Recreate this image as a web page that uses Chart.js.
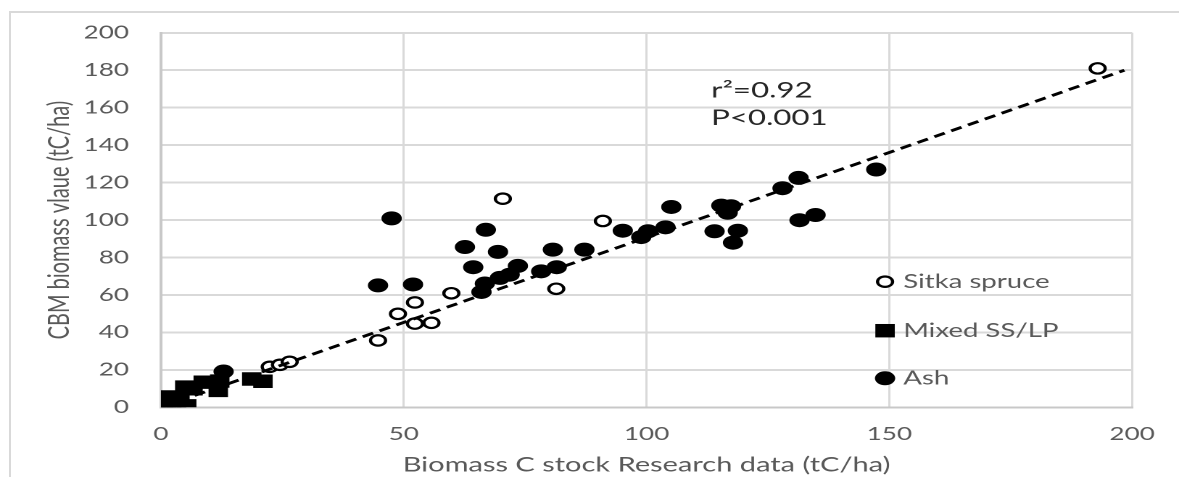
<!DOCTYPE html>
<html>
<head>
<meta charset="utf-8">
<script src="https://cdn.jsdelivr.net/npm/chart.js@4.4.0/dist/chart.umd.min.js"></script>
<style>
html,body{margin:0;padding:0;background:#fff;overflow:hidden;}
#wrap{position:relative;width:1179px;height:477px;}
#frame{position:absolute;left:9px;top:11px;right:-2px;bottom:-2px;border-top:2px solid #d9d9d9;border-left:2px solid #d9d9d9;}
#c{position:absolute;left:0;top:0;}
</style>
</head>
<body>
<div id="wrap">
  <div id="frame"></div>
  <canvas id="c" width="813" height="477" style="width:1179px;height:477px"></canvas>
</div>
<script>
// ---- data ----
const sitkaX = [192.9, 70.4, 91.0, 59.8, 81.4, 52.3, 48.8, 52.3, 55.7, 44.7, 22.4, 24.5, 26.5];
const sitkaY = [181.0, 111.4, 99.5, 60.9, 63.3, 56.0, 49.9, 44.7, 45.1, 35.7, 21.6, 22.7, 24.3];

const mixedX = [0.5, 1.2, 2.2, 3.2, 3.9, 5.3, 1.8, 4.9, 6.6, 8.7, 11.8, 12.1, 18.7, 21.0];
const mixedY = [1.2, 2.9, 0.5, 1.2, 4.7, 0.8, 5.5, 10.8, 9.9, 13.4, 9.0, 14.0, 15.1, 13.9];

const ashX = [62.6, 69.4, 80.7, 87.2, 64.3, 73.5, 78.3, 81.5, 44.7, 51.9, 66.7, 66.0, 69.8, 71.8,
              47.5, 66.9, 95.1, 98.9, 100.3, 103.9, 105.1, 115.4, 117.4, 116.7, 114.0, 118.8,
              117.8, 128.0, 131.3, 131.5, 134.8, 147.3, 12.9];
const ashY = [85.6, 83.0, 84.2, 84.2, 74.8, 75.5, 72.6, 74.8, 65.1, 65.6, 66.1, 61.6, 69.1, 70.8,
              100.9, 94.8, 94.3, 90.9, 94.0, 96.1, 107.0, 107.7, 107.4, 103.9, 94.0, 94.3,
              87.9, 117.0, 122.5, 99.9, 102.7, 127.0, 19.1];

const trendX = [0, 198.4];
const trendY = [0, 180.0];

const xTicks = [0, 50, 100, 150, 200];
const yTicks = [0, 20, 40, 60, 80, 100, 120, 140, 160, 180, 200];

const seriesNames = ['Sitka spruce', 'Mixed SS/LP', 'Ash'];
const noteLines = ['r\u00B2=0.92', 'P<0.001'];
const xTitle = 'Biomass C stock Research data (tC/ha)';
const yTitle = 'CBM biomass vlaue (tC/ha)';

// ---- chart ----
const pts = (xs, ys) => xs.map((x, i) => ({x: x, y: ys[i]}));
Chart.defaults.font.family = 'Lato';
const GRID = '#d9d9d9';
const TXT = '#595959';

const styles = [
  {pointStyle: 'circle', radius: 5.2, borderWidth: 2.2, fill: '#ffffff', stroke: '#000000'},
  {pointStyle: 'rect', radius: 9.5, borderWidth: 0, fill: '#000000', stroke: '#000000'},
  {pointStyle: 'circle', radius: 7, borderWidth: 0, fill: '#000000', stroke: '#000000'}
];

const legendPlugin = {
  id: 'insideLegend',
  afterDraw(chart) {
    const ctx = chart.ctx;
    const mx = 610.3, tx = 622.9;
    const ys = [281.7, 330.7, 378.3];
    ctx.save();
    seriesNames.forEach((name, i) => {
      const s = styles[i];
      ctx.fillStyle = s.fill;
      ctx.strokeStyle = s.stroke;
      ctx.lineWidth = s.borderWidth;
      Chart.helpers.drawPoint(ctx, {pointStyle: s.pointStyle, radius: s.radius, rotation: 0, borderWidth: s.borderWidth}, mx, ys[i]);
      ctx.fillStyle = TXT;
      ctx.font = '19px Lato';
      ctx.textAlign = 'left';
      ctx.textBaseline = 'middle';
      ctx.fillText(name, tx, ys[i]);
    });
    ctx.restore();
  }
};

const notePlugin = {
  id: 'note',
  afterDraw(chart) {
    const ctx = chart.ctx;
    const xs = chart.scales.x, ys = chart.scales.y;
    const pos = [[113.3, 169.2], [113.3, 154.4]];
    ctx.save();
    ctx.font = '21.5px Lato';
    ctx.fillStyle = '#262626';
    ctx.textAlign = 'left';
    ctx.textBaseline = 'middle';
    noteLines.forEach((t, i) => {
      ctx.fillText(t, xs.getPixelForValue(pos[i][0]), ys.getPixelForValue(pos[i][1]));
    });
    ctx.restore();
  }
};

new Chart(document.getElementById('c'), {
  type: 'scatter',
  data: {
    datasets: [
      {
        label: 'trend', type: 'line', data: pts(trendX, trendY),
        borderColor: '#000000', borderWidth: 2.8, borderDash: [8, 5],
        pointRadius: 0, fill: false, showLine: true, tension: 0
      },
      {
        label: seriesNames[0], data: pts(sitkaX, sitkaY),
        pointStyle: styles[0].pointStyle, pointRadius: styles[0].radius,
        borderWidth: styles[0].borderWidth, borderColor: styles[0].stroke, backgroundColor: styles[0].fill
      },
      {
        label: seriesNames[1], data: pts(mixedX, mixedY),
        pointStyle: styles[1].pointStyle, pointRadius: styles[1].radius,
        borderWidth: 0, borderColor: styles[1].stroke, backgroundColor: styles[1].fill
      },
      {
        label: seriesNames[2], data: pts(ashX, ashY),
        pointStyle: styles[2].pointStyle, pointRadius: styles[2].radius,
        borderWidth: 0, borderColor: styles[2].stroke, backgroundColor: styles[2].fill
      }
    ]
  },
  options: {
    responsive: false,
    devicePixelRatio: 2,
    animation: false,
    layout: {padding: {top: 24.3, right: 32.3, left: 0, bottom: 0}},
    plugins: {legend: {display: false}, tooltip: {enabled: false}},
    scales: {
      x: {
        type: 'linear', min: 0, max: 200,
        afterBuildTicks: s => { s.ticks = xTicks.map(v => ({value: v})); },
        afterFit: s => { s.height = 69.7; },
        ticks: {color: TXT, font: {size: 18}, padding: 16},
        grid: {color: GRID, lineWidth: 1.5, drawTicks: false},
        border: {color: '#c8c8c8', width: 2},
        title: {display: true, text: xTitle, color: TXT, font: {size: 20}, padding: {top: 0, bottom: 0}}
      },
      y: {
        type: 'linear', min: 0, max: 200,
        afterBuildTicks: s => { s.ticks = yTicks.map(v => ({value: v})); },
        afterFit: s => { s.width = 111; },
        ticks: {color: TXT, font: {size: 18}, padding: 22},
        grid: {color: GRID, lineWidth: 2, drawTicks: false},
        border: {color: '#c8c8c8', width: 2},
        title: {display: true, text: yTitle, color: TXT, font: {size: 20}, padding: {top: 29, bottom: 0}}
      }
    }
  },
  plugins: [legendPlugin, notePlugin]
});
</script>
</body>
</html>
